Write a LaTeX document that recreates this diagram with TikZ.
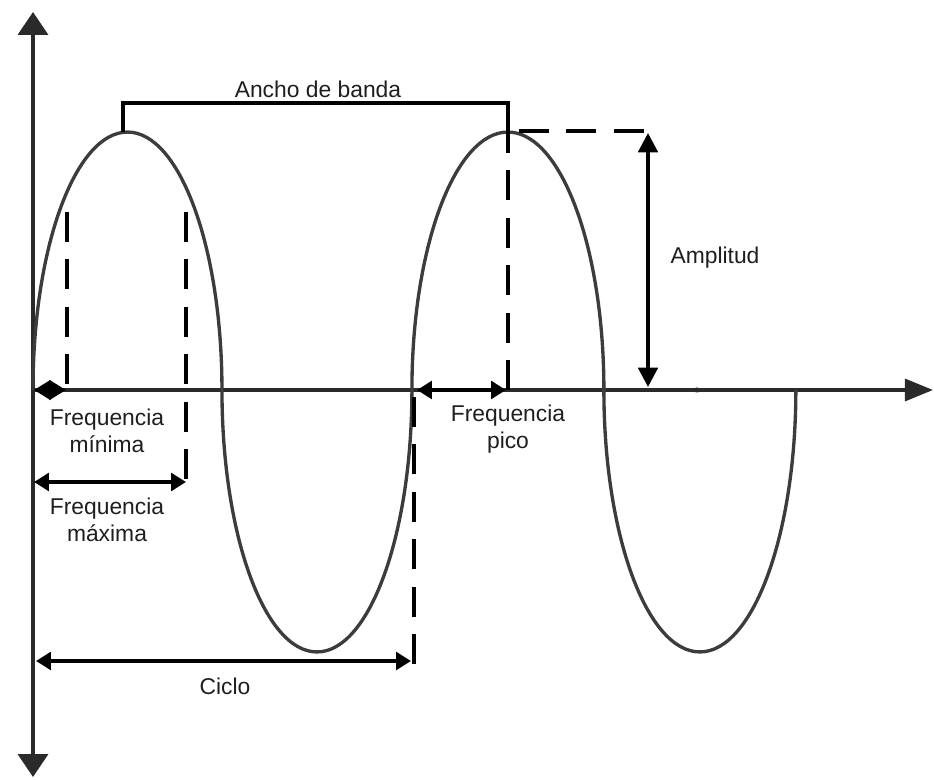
\documentclass[tikz,border=0pt]{standalone}
\usepackage{fontspec}
\setmainfont{Liberation Sans}
\usetikzlibrary{arrows.meta}
\definecolor{wavecol}{HTML}{3C3C3C}
\definecolor{axiscol}{HTML}{2A2A2A}
\definecolor{txtcol}{HTML}{1E1E1E}
\begin{document}
\begin{tikzpicture}[x=0.02cm,y=-0.02cm,
  axisline/.style={draw=axiscol,line width=2pt},
  waveline/.style={draw=wavecol,line width=1.9pt},
  dimline/.style={draw=black,line width=2.2pt},
  dashline/.style={draw=black,line width=2.1pt,dash pattern=on 17pt off 10pt},
  brk/.style={draw=black,line width=2.1pt},
  dimarrow/.style={dimline,{Triangle[length=8.5pt,width=10pt]}-{Triangle[length=8.5pt,width=10pt]}},
  lbl/.style={text=txtcol,font=\fontsize{13}{15}\selectfont,align=center,inner sep=0pt}]
\useasboundingbox (0,0) rectangle (934,780);
% axes
\coordinate (O) at (33,390);
\coordinate (Ytop) at (33,12);
\coordinate (Ybot) at (33,777);
\coordinate (Xend) at (933,390);
\draw[axisline,{Triangle[length=13pt,width=17pt]}-{Triangle[length=13pt,width=17pt]}] (Ybot) -- (Ytop);
\draw[axisline,-{Triangle[length=16pt,width=12.5pt]}] (O) -- (Xend);
\fill[axiscol] (697,390) ellipse[x radius=4,y radius=2.5];
% wave
\draw[waveline] (O)
  arc[start angle=180,end angle=0,x radius=1.89cm,y radius=5.16cm]
  arc[start angle=180,end angle=360,x radius=1.90cm,y radius=5.24cm]
  arc[start angle=180,end angle=0,x radius=1.92cm,y radius=5.16cm]
  arc[start angle=180,end angle=360,x radius=1.92cm,y radius=5.24cm];
% bandwidth bracket
\coordinate (B1) at (123,132);
\coordinate (B2) at (123,103);
\coordinate (B3) at (508,103);
\coordinate (B4) at (508,130);
\draw[brk] (B1) -- (B2) -- (B3) -- (B4);
\node[lbl] (ancho) at (318,89) {Ancho de banda};
% peak dashed lines and amplitude
\coordinate (Pk) at (508,390);
\draw[dashline] (Pk) -- (B3);
\coordinate (H1) at (519,131);
\coordinate (H2) at (652,131);
\draw[dashline] (H1) -- (H2);
\coordinate (A1) at (648,133);
\coordinate (A2) at (648,387);
\draw[dimline,{Triangle[length=11pt,width=11pt]}-{Triangle[length=11pt,width=11pt]}] (A1) -- (A2);
\node[lbl] (ampl) at (715,258) {Amplitud};
% frequency min / max
\coordinate (m1) at (67,212);
\coordinate (m2) at (67,390);
\coordinate (M1) at (186,212);
\coordinate (M2) at (186,486);
\draw[dashline] (m1) -- (m2);
\draw[dashline] (M1) -- (M2);
\coordinate (fm1) at (34,390);
\coordinate (fm2) at (66,390);
\draw[dimline,{Triangle[length=9.5pt,width=11pt]}-{Triangle[length=9.5pt,width=11pt]}] (fm1) -- (fm2);
\node[lbl] (fmin) at (107,431) {Frequencia\\mínima};
\coordinate (fx1) at (34,482);
\coordinate (fx2) at (186,482);
\draw[dimarrow] (fx1) -- (fx2);
\node[lbl] (fmax) at (107,520) {Frequencia\\máxima};
% peak frequency
\coordinate (fp1) at (417,390);
\coordinate (fp2) at (506,390);
\draw[dimarrow] (fp1) -- (fp2);
\node[lbl] (fpico) at (508,429) {Frequencia\\pico};
% cycle
\coordinate (c1) at (414,390);
\coordinate (c2) at (414,664);
\draw[dashline] (c2) -- (c1);
\coordinate (cy1) at (36,661);
\coordinate (cy2) at (411,661);
\draw[dimarrow] (cy1) -- (cy2);
\node[lbl] (ciclo) at (225,686) {Ciclo};
\end{tikzpicture}
\end{document}
